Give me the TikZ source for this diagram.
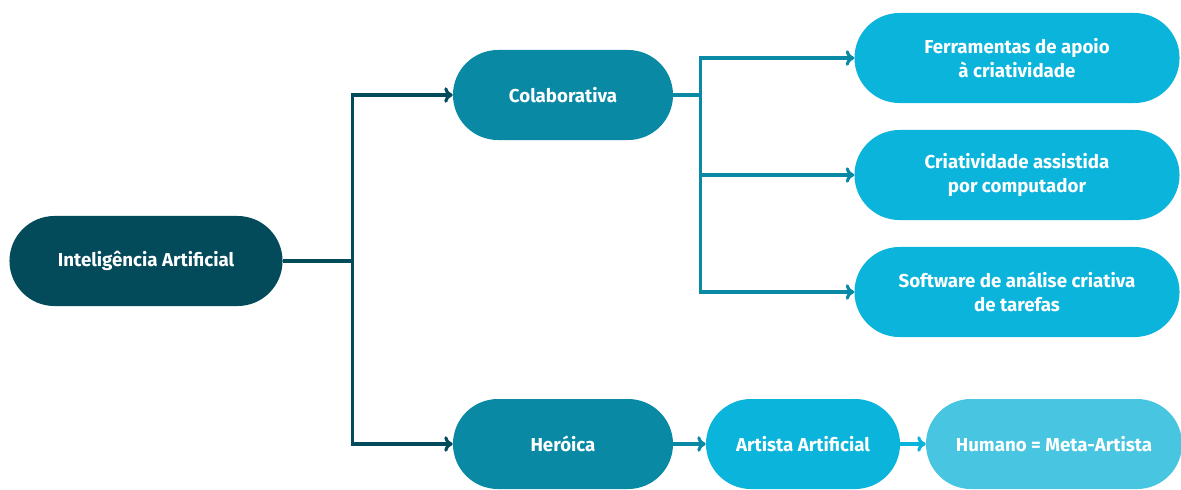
\documentclass[tikz,border=0pt]{standalone}
\usepackage{fontspec}
\setmainfont{Fira Sans}
\usetikzlibrary{shapes.misc,arrows.meta}
\definecolor{escuro}{HTML}{034A5A}
\definecolor{medio}{HTML}{0A89A5}
\definecolor{claro}{HTML}{0BB4DA}
\definecolor{pastel}{HTML}{48C5E1}
\begin{document}
\begin{tikzpicture}[x=0.025cm,y=-0.025cm,
    caixa/.style={rounded rectangle, inner sep=0pt, minimum height=2.25cm,
        text=white, font=\fontsize{13.3}{17}\selectfont\bfseries, align=center},
    seta/.style={line width=2.2pt, -{To[length=6pt,width=11pt]}}
]
\useasboundingbox (0,0) rectangle (1181,489);
% Caixas
\node[caixa, fill=escuro, minimum width=6.825cm] (ia) at (146,261) {Inteligência Artificial};
\node[caixa, fill=medio, minimum width=5.5cm] (col) at (563,95) {Colaborativa};
\node[caixa, fill=medio, minimum width=5.5cm] (her) at (563,444) {Heróica};
\node[caixa, fill=claro, minimum width=8.125cm] (fer) at (1017,58) {Ferramentas de apoio\\à criatividade};
\node[caixa, fill=claro, minimum width=8.125cm] (cri) at (1017,175) {Criatividade assistida\\por computador};
\node[caixa, fill=claro, minimum width=8.125cm] (sof) at (1017,292) {Software de análise criativa\\de tarefas};
\node[caixa, fill=claro, minimum width=4.85cm] (art) at (803,444) {Artista Artificial};
\node[caixa, fill=pastel, minimum width=6.4cm] (hum) at (1054,444) {Humano = Meta-Artista};
% Ligacoes
\draw[line width=2.2pt, escuro] (ia.east) -- ++(70,0) coordinate (j1);
\draw[seta, escuro] (j1) |- (col.west);
\draw[seta, escuro] (j1) |- (her.west);
\draw[line width=2.2pt, medio] (col.east) -- ++(27,0) coordinate (j2);
\draw[seta, medio] (j2) |- (fer.west);
\draw[seta, medio] (j2) |- (cri.west);
\draw[seta, medio] (j2) |- (sof.west);
\draw[seta, medio] (her.east) -- (art.west);
\draw[seta, claro] (art.east) -- (hum.west);
\end{tikzpicture}
\end{document}
